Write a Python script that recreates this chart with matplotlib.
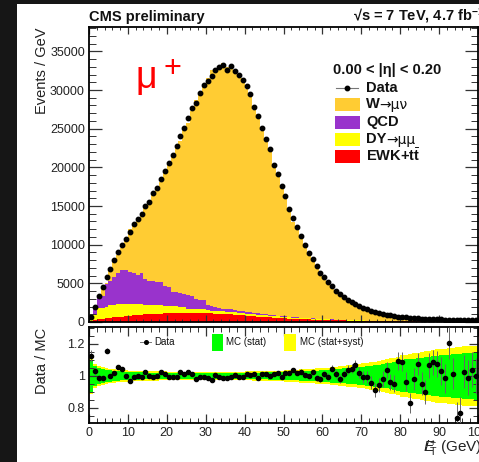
import numpy as np
import matplotlib
matplotlib.use('Agg')
import matplotlib.pyplot as plt
from matplotlib.patches import Rectangle
from matplotlib.lines import Line2D
from matplotlib.ticker import MultipleLocator, FuncFormatter

plt.rcParams['font.family'] = ['Liberation Sans', 'DejaVu Sans']
plt.rcParams['mathtext.fontset'] = 'custom'
plt.rcParams['mathtext.rm'] = 'Liberation Sans'
plt.rcParams['mathtext.it'] = 'Liberation Sans:italic'
plt.rcParams['mathtext.bf'] = 'Liberation Sans:bold'

# 1 GeV bins from 0 to 100, values in events / GeV
data = [690, 1980, 3370, 4570, 5870, 6900, 8030, 9070, 10010, 10750,
        11620, 12650, 13300, 13950, 15060, 15500, 16700, 17390, 18520, 19550,
        20550, 21540, 22700, 24000, 25030, 26330, 27620, 28270, 29600, 30620,
        31230, 31800, 32650, 33020, 33200, 32610, 33060, 32450, 31990, 31250,
        30470, 29490, 27800, 26590, 25080, 23700, 22360, 20290, 19150, 17630,
        16230, 14630, 13470, 12300, 11140, 9930, 8980, 8120, 7250, 6390,
        5790, 5180, 4660, 4050, 3670, 3200, 2850, 2590, 2330, 2070,
        1860, 1680, 1470, 1300, 1130, 1040, 950, 870, 780, 700,
        640, 590, 540, 500, 470, 440, 410, 390, 370, 350,
        330, 315, 300, 290, 280, 270, 260, 250, 240, 230]

w_munu = [110, 170, 170, 1240, 170, 1600, 2100, 2320, 2790, 4000,
          5540, 6470, 7270, 7720, 9220, 10200, 11580, 12190, 12950, 14540,
          16070, 17720, 18930, 19570, 21150, 22270, 23930, 25810, 26820, 27920,
          29360, 30480, 30630, 31350, 31800, 31250, 31570, 30640, 30650, 30110,
          28800, 28070, 26300, 25750, 23660, 22430, 21430, 19180, 18010, 16930,
          15240, 13710, 12320, 11450, 10290, 9350, 8500, 7470, 6920, 6120,
          5350, 4840, 4110, 3680, 3450, 2880, 2480, 2230, 1950, 1810,
          1670, 1500, 1350, 1250, 1030, 900, 770, 750, 680, 510,
          465, 490, 540, 405, 337, 370, 364, 278, 257, 245,
          242, 245, 177, 217, 313, 289, 193, 195, 176, 177]

qcd = [200, 900, 1500, 1600, 2900, 3100, 3600, 3900, 4400, 4350,
       4100, 3900, 3650, 3900, 3250, 3050, 3000, 2950, 2900, 2700,
       2550, 1900, 1850, 1800, 1650, 1750, 1650, 1250, 1200, 1150,
       700, 600, 450, 400, 380, 360, 330, 300, 280, 260,
       240, 220, 200, 180, 160, 140, 120, 100, 90, 80,
       70, 65, 60, 55, 50, 45, 40, 36, 32, 28,
       25, 22, 20, 18, 16, 14, 12, 11, 10, 9,
       8, 8, 7, 7, 6, 6, 5, 5, 5, 4,
       4, 4, 3, 3, 3, 3, 3, 2, 2, 2,
       2, 2, 2, 2, 1, 1, 1, 1, 1, 1]

dy_mumu = [150, 600, 1400, 1350, 1500, 1650, 1600, 1730, 1680, 1630,
           1580, 1530, 1480, 1430, 1250, 1230, 1210, 1190, 1170, 920,
           890, 860, 830, 800, 780, 520, 510, 500, 500, 490,
           400, 370, 360, 350, 340, 330, 310, 300, 290, 280,
           270, 260, 250, 240, 230, 220, 210, 200, 190, 180,
           170, 160, 150, 140, 130, 120, 115, 110, 105, 100,
           95, 90, 85, 80, 75, 70, 65, 60, 56, 52,
           48, 45, 42, 40, 38, 36, 34, 32, 30, 28,
           26, 25, 24, 23, 22, 21, 20, 19, 18, 17,
           16, 15, 14, 13, 12, 12, 11, 11, 10, 10]

ewk_tt = [150, 250, 350, 450, 500, 550, 600, 650, 700, 750,
          800, 850, 900, 950, 1000, 1020, 1040, 1060, 1080, 1100,
          1120, 1150, 1180, 1200, 1200, 1200, 1200, 1200, 1200, 1180,
          1150, 1100, 1080, 1050, 1020, 1000, 980, 950, 900, 850,
          800, 760, 720, 690, 660, 630, 600, 570, 540, 510,
          480, 450, 420, 400, 380, 360, 340, 320, 300, 280,
          265, 250, 235, 220, 210, 200, 190, 180, 170, 160,
          150, 140, 135, 130, 125, 120, 115, 110, 105, 100,
          95, 90, 85, 80, 75, 70, 68, 66, 64, 62,
          60, 58, 56, 54, 52, 50, 48, 46, 44, 42]

ratio = [1.125, 1.031, 0.985, 0.985, 1.158, 1.0, 1.017, 1.054, 1.046, 1.002,
         0.967, 0.992, 1.0, 0.996, 1.023, 1.0, 0.992, 1.0, 1.023, 1.015,
         0.996, 0.996, 0.996, 1.027, 1.01, 1.023, 1.012, 0.983, 0.996, 0.996,
         0.988, 0.977, 1.004, 0.996, 0.99, 0.99, 0.996, 1.008, 0.996, 0.992,
         1.012, 1.006, 1.012, 0.99, 1.015, 1.012, 1.0, 1.012, 1.017, 0.996,
         1.017, 1.017, 1.04, 1.021, 1.027, 1.006, 0.998, 1.023, 0.985, 0.979,
         1.01, 0.996, 1.046, 1.012, 0.979, 1.012, 1.038, 1.046, 1.067, 1.021,
         0.992, 0.992, 0.958, 0.91, 0.944, 0.981, 1.035, 0.963, 0.952, 1.094,
         1.09, 0.965, 0.831, 0.979, 1.075, 0.95, 0.902, 1.067, 1.085, 1.075,
         1.031, 0.985, 1.206, 1.015, 0.74, 0.767, 1.027, 0.99, 1.038, 1.0]

ratio_err = [0.04, 0.025, 0.02, 0.017, 0.015, 0.013, 0.012, 0.011, 0.01, 0.01,
             0.01, 0.01, 0.01, 0.01, 0.01, 0.01, 0.01, 0.01, 0.01, 0.01,
             0.009, 0.009, 0.009, 0.009, 0.009, 0.009, 0.009, 0.009, 0.009, 0.009,
             0.008, 0.008, 0.008, 0.008, 0.008, 0.008, 0.008, 0.008, 0.008, 0.008,
             0.008, 0.008, 0.008, 0.009, 0.009, 0.009, 0.009, 0.01, 0.01, 0.01,
             0.01, 0.011, 0.012, 0.013, 0.014, 0.015, 0.016, 0.017, 0.018, 0.019,
             0.02, 0.021, 0.022, 0.024, 0.025, 0.027, 0.028, 0.03, 0.032, 0.034,
             0.036, 0.038, 0.04, 0.043, 0.046, 0.048, 0.05, 0.052, 0.055, 0.058,
             0.06, 0.062, 0.065, 0.068, 0.07, 0.072, 0.075, 0.078, 0.08, 0.083,
             0.086, 0.09, 0.1, 0.095, 0.1, 0.1, 0.105, 0.11, 0.11, 0.115]

# half widths of the MC uncertainty bands in the ratio
band_stat = [0.10, 0.065, 0.05, 0.045, 0.04, 0.035, 0.032, 0.03, 0.028, 0.026,
             0.025, 0.024, 0.023, 0.022, 0.022, 0.021, 0.021, 0.02, 0.02, 0.02,
             0.02, 0.02, 0.02, 0.02, 0.02, 0.02, 0.02, 0.02, 0.02, 0.02,
             0.02, 0.02, 0.02, 0.02, 0.02, 0.02, 0.02, 0.02, 0.02, 0.02,
             0.02, 0.02, 0.021, 0.021, 0.022, 0.022, 0.023, 0.023, 0.024, 0.024,
             0.025, 0.026, 0.027, 0.028, 0.029, 0.03, 0.031, 0.033, 0.034, 0.036,
             0.037, 0.039, 0.041, 0.043, 0.045, 0.047, 0.049, 0.051, 0.053, 0.055,
             0.057, 0.06, 0.063, 0.066, 0.07, 0.074, 0.078, 0.083, 0.088, 0.094,
             0.1, 0.103, 0.106, 0.109, 0.112, 0.115, 0.118, 0.121, 0.124, 0.127,
             0.13, 0.132, 0.134, 0.136, 0.138, 0.14, 0.142, 0.144, 0.146, 0.148]

band_syst = [0.11, 0.075, 0.06, 0.055, 0.05, 0.045, 0.042, 0.04, 0.038, 0.036,
             0.034, 0.033, 0.032, 0.031, 0.03, 0.03, 0.029, 0.029, 0.028, 0.028,
             0.027, 0.027, 0.027, 0.027, 0.027, 0.027, 0.027, 0.027, 0.027, 0.027,
             0.027, 0.027, 0.027, 0.027, 0.027, 0.027, 0.027, 0.027, 0.027, 0.027,
             0.028, 0.028, 0.029, 0.029, 0.03, 0.031, 0.032, 0.033, 0.034, 0.034,
             0.035, 0.036, 0.038, 0.039, 0.041, 0.042, 0.044, 0.046, 0.048, 0.05,
             0.05, 0.052, 0.055, 0.058, 0.06, 0.063, 0.066, 0.069, 0.072, 0.075,
             0.078, 0.082, 0.086, 0.09, 0.095, 0.1, 0.105, 0.11, 0.115, 0.12,
             0.13, 0.134, 0.138, 0.142, 0.146, 0.15, 0.154, 0.158, 0.162, 0.166,
             0.167, 0.17, 0.173, 0.176, 0.179, 0.182, 0.185, 0.188, 0.19, 0.19]

c_w = '#ffcc33'
c_qcd = '#9933cc'
c_dy = '#ffff00'
c_ewk = '#ff0000'

W, H = 479, 462
def fx(x): return x / W
def fy(y): return 1 - y / H

fig = plt.figure(figsize=(4.79, 4.62), dpi=100, facecolor='#161616')
# white canvas of the slide
fig.add_artist(Rectangle((fx(17), 0), 1 - fx(17), fy(4), transform=fig.transFigure,
                         facecolor='white', edgecolor='none', zorder=-10))

ax = fig.add_axes([fx(89), fy(322), fx(478) - fx(89), fy(27) - fy(322)])
rax = fig.add_axes([fx(89), fy(423), fx(478) - fx(89), fy(327) - fy(423)])

edges = np.arange(0, 101)
centers = edges[:-1] + 0.5

s1 = np.array(ewk_tt, float)
s2 = s1 + np.array(dy_mumu)
s3 = s2 + np.array(qcd)
s4 = s3 + np.array(w_munu)
ax.stairs(s4, edges, baseline=s3, fill=True, color=c_w, lw=0)
ax.stairs(s3, edges, baseline=s2, fill=True, color=c_qcd, lw=0)
ax.stairs(s2, edges, baseline=s1, fill=True, color=c_dy, lw=0)
ax.stairs(s1, edges, baseline=0, fill=True, color=c_ewk, lw=0)
ax.plot(centers, data, 'o', color='black', ms=3.2, zorder=5)

ax.set_xlim(0, 100)
ax.set_ylim(0, 38150)
ax.xaxis.set_major_locator(MultipleLocator(10))
ax.xaxis.set_minor_locator(MultipleLocator(2))
ax.yaxis.set_major_locator(MultipleLocator(5000))
ax.yaxis.set_minor_locator(MultipleLocator(1000))
ax.tick_params(labelbottom=False)

# ratio panel
rax.stairs(1 + np.array(band_syst), edges, baseline=1 - np.array(band_syst), fill=True, color='#ffff00', lw=0)
rax.stairs(1 + np.array(band_stat), edges, baseline=1 - np.array(band_stat), fill=True, color='#00ff00', lw=0)
rax.errorbar(centers, ratio, yerr=ratio_err, fmt='o', color='black', ms=3, ecolor='#666666',
             elinewidth=0.7, capsize=0, zorder=5)
rax.set_xlim(0, 100)
rax.set_ylim(0.706, 1.306)
rax.xaxis.set_major_locator(MultipleLocator(10))
rax.xaxis.set_minor_locator(MultipleLocator(2))
rax.set_yticks([0.8, 1.0, 1.2])
rax.yaxis.set_minor_locator(MultipleLocator(0.05))
rax.yaxis.set_major_formatter(FuncFormatter(lambda v, p: '%g' % v))

for a in (ax, rax):
    a.tick_params(which='both', direction='in', top=True, right=True, color='#333333',
                  labelcolor='#222222', labelsize=9, pad=3)
    for s in a.spines.values():
        s.set_linewidth(1.3)
ax.tick_params(axis='y', which='major', length=9.5, width=0.9)
ax.tick_params(axis='y', which='minor', length=5, width=0.7)
ax.tick_params(axis='x', which='major', length=5, width=0.9)
ax.tick_params(axis='x', which='minor', length=2.5, width=0.7)
rax.tick_params(axis='both', which='major', length=6.5, width=0.9)
rax.tick_params(axis='both', which='minor', length=3.5, width=0.7)

# titles and labels
fig.text(fx(89), fy(21), 'CMS preliminary', fontsize=10.5, fontweight='bold', color='#111111', va='baseline')
fig.text(fx(353), fy(21), '\u221as = 7 TeV, 4.7 fb$^{\\mathbf{-1}}$', fontsize=10.5, fontweight='bold',
         color='#111111', va='baseline')
fig.text(fx(42), fy(28), 'Events / GeV', rotation=90, ha='center', va='top', fontsize=10.5, color='#222222')
fig.text(fx(42), fy(328), 'Data / MC', rotation=90, ha='center', va='top', fontsize=10.5, color='#222222')
fig.text(fx(423), fy(453), '$E\\!\\!\\!\\!/_{\\mathrm{T}}^{+}$ (GeV)', fontsize=11, color='#222222', va='baseline')

fig.text(fx(136), fy(88), '\u03bc', fontsize=27, color='red', va='baseline')
fig.text(fx(172), fy(69), '+', fontsize=22, color='red', ha='center', va='center')

# legend of the main panel
fig.text(fx(333), fy(70), '0.00 < |\u03b7| < 0.20', fontsize=10.5, fontweight='bold', color='#111111', va='center')
fig.add_artist(Line2D([fx(336), fx(358)], [fy(88), fy(88)], color='#777777', lw=0.8, transform=fig.transFigure))
fig.add_artist(Line2D([fx(347)], [fy(88)], marker='o', ms=3.2, color='black', transform=fig.transFigure))
rows = [(88, 'Data', '', None),
        (104, 'W', '\u2192\u03bc\u03bd', c_w),
        (122, 'QCD', '', c_qcd),
        (139, 'DY', '\u2192\u03bc\u03bc', c_dy),
        (156, 'EWK+t$\\bar{\\mathbf{t}}$', '', c_ewk)]
renderer = fig.canvas.get_renderer()
for yc, label, tail, col in rows:
    if col is not None:
        fig.add_artist(Rectangle((fx(335), fy(yc + 6.5)), fx(360) - fx(335), fy(yc - 6.5) - fy(yc + 6.5),
                                 transform=fig.transFigure, facecolor=col, edgecolor='none'))
    t = fig.text(fx(366), fy(yc), label, fontsize=10.5, fontweight='bold', color='#111111', va='center')
    if tail:
        bb = t.get_window_extent(renderer)
        fig.text(bb.x1 / W, fy(yc + 1), tail, fontsize=10, family='DejaVu Sans',
                 color='#111111', va='center')

# legend of the ratio panel
fig.add_artist(Line2D([fx(140), fx(151)], [fy(342), fy(342)], color='#777777', lw=0.7, transform=fig.transFigure))
fig.add_artist(Line2D([fx(145.5)], [fy(342)], marker='o', ms=2.6, color='black', transform=fig.transFigure))
fig.text(fx(154), fy(342), 'Data', fontsize=7, color='#111111', va='center')
fig.add_artist(Rectangle((fx(212), fy(351)), fx(223) - fx(212), fy(334) - fy(351),
                         transform=fig.transFigure, facecolor='#00ff00', edgecolor='none'))
fig.text(fx(226), fy(342), 'MC (stat)', fontsize=7, color='#111111', va='center')
fig.add_artist(Rectangle((fx(284), fy(351)), fx(296) - fx(284), fy(334) - fy(351),
                         transform=fig.transFigure, facecolor='#ffff00', edgecolor='none'))
fig.text(fx(300), fy(342), 'MC (stat+syst)', fontsize=7, color='#111111', va='center')

fig.savefig('out.png', dpi=100, facecolor=fig.get_facecolor())
